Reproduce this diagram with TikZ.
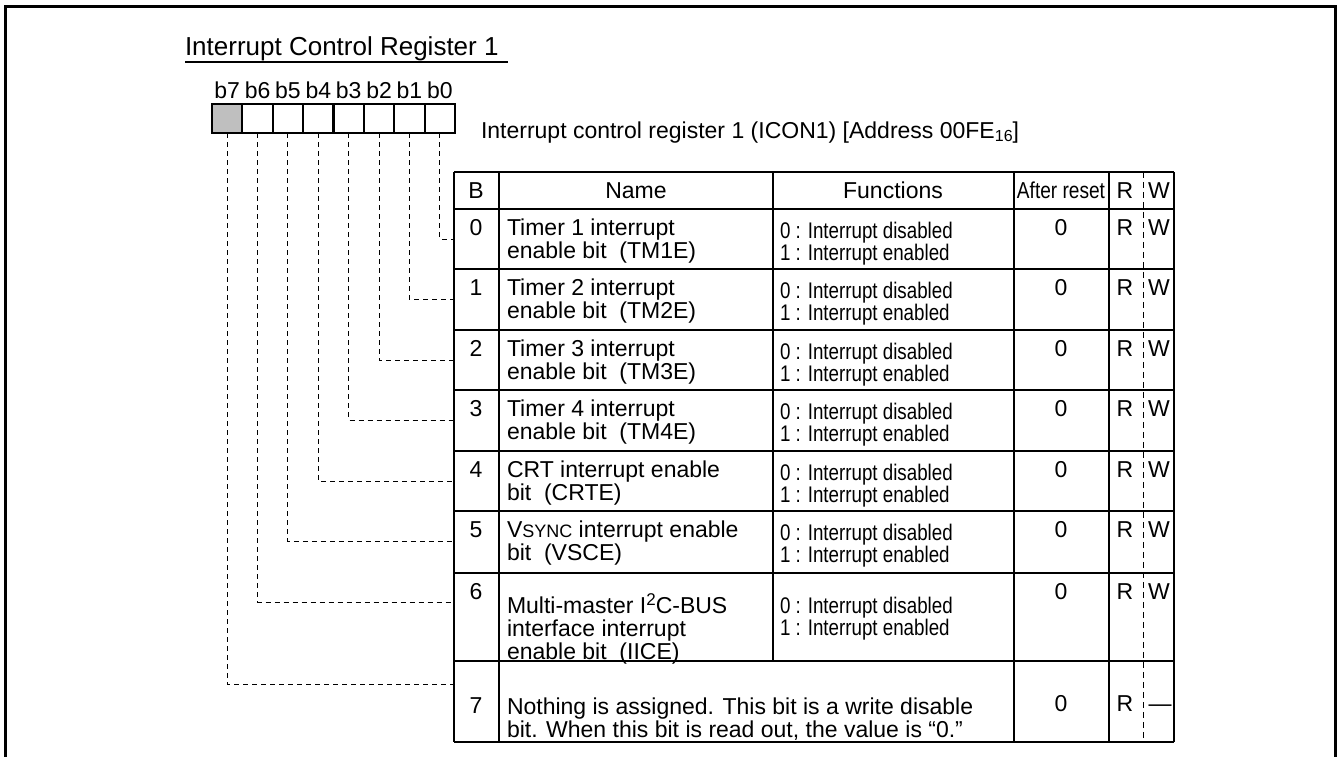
\documentclass[tikz,border=0pt]{standalone}
\usepackage{fontspec}
\setmainfont{Liberation Sans}
\newfontfamily\narrowfont[FakeStretch=0.83]{Liberation Sans}
\begin{document}
\begin{tikzpicture}[x=0.5pt,y=-0.5pt,
  txt/.style={inner sep=0pt, outer sep=0pt, font=\fontsize{11.5pt}{13pt}\selectfont},
  ttl/.style={inner sep=0pt, outer sep=0pt, font=\fontsize{13pt}{15pt}\selectfont},
  fn/.style={inner sep=0pt, outer sep=0pt, font=\narrowfont\fontsize{11.3pt}{13pt}\selectfont},
  hn/.style={inner sep=0pt, outer sep=0pt, font=\narrowfont\fontsize{11.5pt}{13pt}\selectfont},
  grid/.style={line width=1pt},
  frame/.style={line width=1.5pt},
  dl/.style={line width=0.45pt, dash pattern=on 2.5pt off 2pt},
  rwdash/.style={line width=0.5pt, dash pattern=on 3pt off 2pt},
  cellbox/.style={draw, line width=1pt, minimum width=15.2pt, minimum height=14.5pt, inner sep=0pt, outer sep=0pt}
]
\useasboundingbox (0,0) rectangle (1339,756);
\draw[frame] (5,757) -- (5,6) -- (1335,6) -- (1335,757);

% title
\node[ttl, anchor=base west] (title) at (185,55) {Interrupt Control Register 1};
\draw[line width=0.6pt] (185,62) -- (508,62);

% register cells
\foreach \i in {0,...,7}{
  \pgfmathsetmacro{\cx}{455-30.375*(\i+0.5)}
  \node[cellbox] (c\i) at (\cx,118.5) {};
  \node[txt, anchor=base] (lb\i) at (\cx,98) {b\i};
}
\fill[gray!50] ([shift={(0.5pt,-0.5pt)}]c7.north west) rectangle ([shift={(-0.5pt,0.5pt)}]c7.south east);
\node[cellbox] at (c7) {};

\node[txt, anchor=base west] (desc) at (481,138) {Interrupt control register 1 (ICON1) [Address 00FE\raisebox{-1.5pt}{\fontsize{8pt}{9pt}\selectfont 16}]};

% table grid
\foreach \yy in {172,209,269,330,390,451,511,573,661,742}{
  \draw[grid] (454,\yy) -- (1174,\yy);
}
\draw[grid] (454,172) -- (454,742);
\draw[grid] (499,172) -- (499,742);
\draw[grid] (773,172) -- (773,661);
\draw[grid] (1014,172) -- (1014,742);
\draw[grid] (1109,172) -- (1109,742);
\draw[grid] (1174,172) -- (1174,742);
\draw[rwdash] (1143,172) -- (1143,742);

% header
\node[txt, anchor=base] (hB) at (476,198) {B};
\node[txt, anchor=base] (hN) at (636,198) {Name};
\node[txt, anchor=base] (hF) at (893,198) {Functions};
\node[hn, anchor=base] (hA) at (1061,198) {After reset};
\node[txt, anchor=base] (hR) at (1125,198) {R};
\node[txt, anchor=base] (hW) at (1159,198) {W};

% rows 0-5
\foreach \r/\t/\na/\nb in {
  0/209/Timer 1 interrupt/enable bit\ \ (TM1E),
  1/269/Timer 2 interrupt/enable bit\ \ (TM2E),
  2/330/Timer 3 interrupt/enable bit\ \ (TM3E),
  3/390/Timer 4 interrupt/enable bit\ \ (TM4E),
  4/451/CRT interrupt enable/bit\ \ (CRTE),
  5/511/V{\fontsize{9pt}{10pt}\selectfont SYNC} interrupt enable/bit\ \ (VSCE)}{
  \node[txt, anchor=base] (d\r) at (476,\t+26) {\r};
  \node[txt, anchor=base west] (na\r) at (507,\t+26) {\na};
  \node[txt, anchor=base west] (nb\r) at (507,\t+49) {\nb};
  \node[fn, anchor=base west] (fa\r) at (780,\t+29) {0 : Interrupt disabled};
  \node[fn, anchor=base west] (fb\r) at (780,\t+51) {1 : Interrupt enabled};
  \node[txt, anchor=base] (ar\r) at (1061,\t+26) {0};
  \node[txt, anchor=base] (rr\r) at (1125,\t+26) {R};
  \node[txt, anchor=base] (ww\r) at (1159,\t+26) {W};
  \coordinate (r\r) at (454,\t+30);
  \draw[dl] (c\r.south) |- (r\r);
}

% row 6
\node[txt, anchor=base] (d6) at (476,599) {6};
\node[txt, anchor=base west] (na6) at (507,613) {Multi-master I\raisebox{4pt}{\fontsize{8.5pt}{9pt}\selectfont 2}C-BUS};
\node[txt, anchor=base west] (nb6) at (507,636) {interface interrupt};
\node[txt, anchor=base west] (nc6) at (507,659) {enable bit\ \ (IICE)};
\node[fn, anchor=base west] (fa6) at (780,613) {0 : Interrupt disabled};
\node[fn, anchor=base west] (fb6) at (780,635) {1 : Interrupt enabled};
\node[txt, anchor=base] (ar6) at (1061,599) {0};
\node[txt, anchor=base] (rr6) at (1125,599) {R};
\node[txt, anchor=base] (ww6) at (1159,599) {W};
\coordinate (r6) at (454,602);
\draw[dl] (c6.south) |- (r6);

% row 7
\node[txt, anchor=base] (d7) at (476,713) {7};
\node[txt, anchor=base west] (na7) at (507,714) {Nothing is assigned. This bit is a write disable};
\node[txt, anchor=base west] (nb7) at (507,737) {bit. When this bit is read out, the value is “0.”};
\node[txt, anchor=base] (ar7) at (1061,711) {0};
\node[txt, anchor=base] (rr7) at (1125,711) {R};
\node[txt, anchor=base] (ww7) at (1160,711) {—};
\coordinate (r7) at (454,684);
\draw[dl] (c7.south) |- (r7);
\end{tikzpicture}
\end{document}
